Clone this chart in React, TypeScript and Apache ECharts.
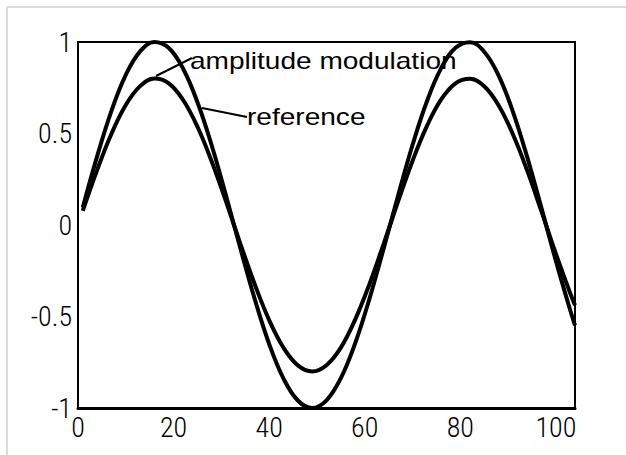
import React, { useEffect, useRef } from "react";
import * as echarts from "echarts";

const xValues = [1, 4, 7, 10, 13, 16, 19, 22, 25, 28, 31, 34, 37, 40, 43, 46, 49, 52, 55, 58, 61, 64, 67, 70, 73, 76, 79, 82, 85, 88, 91, 94, 97, 100, 103, 104];
const referenceValues = [0.096, 0.375, 0.624, 0.82, 0.949, 1.0, 0.967, 0.854, 0.671, 0.433, 0.158, -0.13, -0.406, -0.65, -0.839, -0.959, -1.0, -0.958, -0.837, -0.646, -0.402, -0.125, 0.163, 0.437, 0.675, 0.857, 0.968, 0.999, 0.947, 0.818, 0.62, 0.371, 0.091, -0.196, -0.466, -0.549];
const modulationValues = [0.077, 0.3, 0.499, 0.656, 0.759, 0.8, 0.774, 0.683, 0.537, 0.346, 0.126, -0.104, -0.325, -0.52, -0.671, -0.767, -0.8, -0.766, -0.67, -0.517, -0.322, -0.1, 0.13, 0.35, 0.54, 0.686, 0.774, 0.799, 0.758, 0.654, 0.496, 0.297, 0.073, -0.157, -0.373, -0.439];
const seriesNames = ["reference", "amplitude modulation"];

export default function App() {
  const ref = useRef<HTMLDivElement>(null);
  useEffect(() => {
    if (!ref.current) return;
    const chart = echarts.init(ref.current, null, { renderer: "svg" });
    const tickFont = "'Roboto Condensed', 'Liberation Sans', Arial, sans-serif";
    const annFont = "23px 'Liberation Sans', Arial, sans-serif";
    chart.setOption({
      animation: false,
      backgroundColor: "#fff",
      grid: {
        left: 78,
        top: 42,
        right: 51,
        bottom: 47,
        show: true,
        borderColor: "#000",
        borderWidth: 2,
      },
      xAxis: {
        type: "value",
        min: 0,
        max: 104,
        interval: 20,
        axisLine: { show: true, onZero: false, lineStyle: { color: "#000", width: 3 } },
        axisTick: { show: false },
        splitLine: { show: false },
        axisLabel: {
          showMaxLabel: false,
          color: "#000",
          fontSize: 28,
          fontWeight: 300,
          fontFamily: tickFont,
          margin: 5,
        },
      },
      yAxis: {
        type: "value",
        min: -1,
        max: 1,
        interval: 0.5,
        axisLine: { show: true, lineStyle: { color: "#000", width: 2 } },
        axisTick: { show: false },
        splitLine: { show: false },
        axisLabel: {
          color: "#000",
          fontSize: 28,
          fontWeight: 300,
          fontFamily: tickFont,
          margin: 6,
        },
      },
      series: [
        {
          name: seriesNames[0],
          type: "line",
          data: xValues.map((x, i) => [x, referenceValues[i]]),
          showSymbol: false,
          smooth: 0.4,
          clip: false,
          lineStyle: { color: "#000", width: 4 },
        },
        {
          name: seriesNames[1],
          type: "line",
          data: xValues.map((x, i) => [x, modulationValues[i]]),
          showSymbol: false,
          smooth: 0.4,
          clip: false,
          lineStyle: { color: "#000", width: 4 },
        },
      ],
      graphic: [
        { type: "line", shape: { x1: 7, y1: 7, x2: 626, y2: 7 }, style: { stroke: "#dcdcdc", lineWidth: 2 } },
        { type: "line", shape: { x1: 7, y1: 7, x2: 7, y2: 455 }, style: { stroke: "#dcdcdc", lineWidth: 2 } },
        { type: "line", shape: { x1: 192, y1: 58, x2: 156, y2: 76 }, style: { stroke: "#000", lineWidth: 2 } },
        { type: "line", shape: { x1: 247, y1: 117, x2: 202, y2: 108 }, style: { stroke: "#000", lineWidth: 2 } },
        {
          type: "text",
          x: 190,
          y: 61,
          scaleX: 1.22,
          style: { text: seriesNames[1], font: annFont, fill: "#000", verticalAlign: "middle", align: "left" },
        },
        {
          type: "text",
          x: 247,
          y: 117,
          scaleX: 1.22,
          style: { text: seriesNames[0], font: annFont, fill: "#000", verticalAlign: "middle", align: "left" },
        },
      ],
    });
    return () => chart.dispose();
  }, []);
  return <div ref={ref} style={{ position: "absolute", left: 0, top: 0, width: 626, height: 455 }} />;
}
